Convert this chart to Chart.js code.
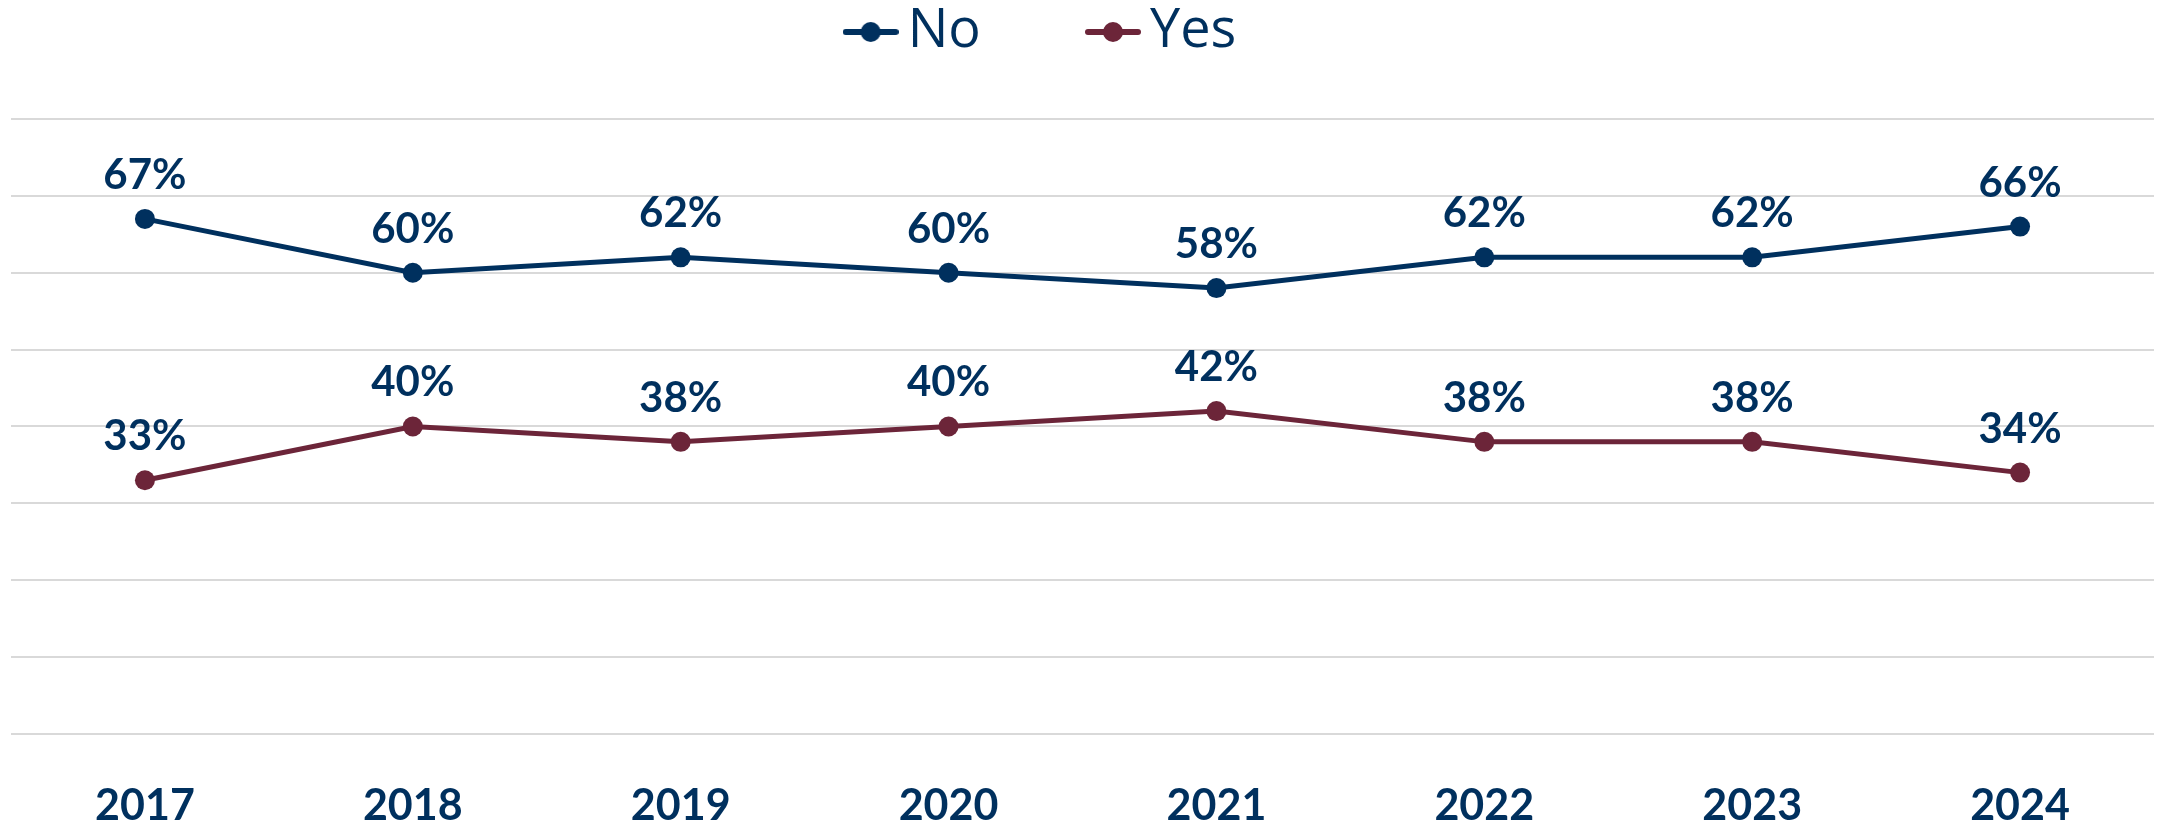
<!DOCTYPE html>
<html>
<head>
<meta charset="utf-8">
<script src="https://cdn.jsdelivr.net/npm/chart.js@4.4.1/dist/chart.umd.min.js"></script>
<style>
    html, body { margin: 0; padding: 0; background: #ffffff; }
    #wrap { width: 2164px; height: 829px; }
</style>
</head>
<body>
<div id="wrap"><canvas id="chart"></canvas></div>
<script>
    // chart data
    const years = ["2017", "2018", "2019", "2020", "2021", "2022", "2023", "2024"];
    const noValues = [67, 60, 62, 60, 58, 62, 62, 66];
    const yesValues = [33, 40, 38, 40, 42, 38, 38, 34];

    const NAVY = "#00305e";
    const MAROON = "#6c2539";
    const GRID = "#d9d9d9";

    // legend marker: short line with a dot in the middle
    const makeMarker = (color) => {
        const c = document.createElement("canvas");
        c.width = 56;
        c.height = 24;
        const g = c.getContext("2d");
        g.strokeStyle = color;
        g.lineWidth = 6;
        g.lineCap = "round";
        g.beginPath();
        g.moveTo(3, 12);
        g.lineTo(53, 12);
        g.stroke();
        g.fillStyle = color;
        g.beginPath();
        g.arc(28, 12, 10, 0, Math.PI * 2);
        g.fill();
        return c;
    };
    const markers = [makeMarker(NAVY), makeMarker(MAROON)];
    // trailing spaces keep the gap / offset of the original legend
    const legendPad = ["        ", "     "];

    // value labels above each point
    const pointLabels = {
        id: "pointLabels",
        afterDatasetsDraw(chart) {
            const ctx = chart.ctx;
            ctx.save();
            ctx.font = "bold 42px Lato";
            ctx.fillStyle = NAVY;
            ctx.textAlign = "center";
            ctx.textBaseline = "alphabetic";
            chart.data.datasets.forEach((ds, i) => {
                chart.getDatasetMeta(i).data.forEach((pt, j) => {
                    ctx.fillText(ds.data[j] + "%", pt.x, pt.y - 30);
                });
            });
            ctx.restore();
        },
    };

    new Chart(document.getElementById("chart"), {
        type: "line",
        data: {
            labels: years,
            datasets: [
                {
                    label: "No",
                    data: noValues,
                    borderColor: NAVY,
                    backgroundColor: NAVY,
                    borderWidth: 5,
                    pointRadius: 10,
                    pointBorderWidth: 0,
                    pointBackgroundColor: NAVY,
                    tension: 0,
                },
                {
                    label: "Yes",
                    data: yesValues,
                    borderColor: MAROON,
                    backgroundColor: MAROON,
                    borderWidth: 5,
                    pointRadius: 10,
                    pointBorderWidth: 0,
                    pointBackgroundColor: MAROON,
                    tension: 0,
                },
            ],
        },
        options: {
            responsive: true,
            maintainAspectRatio: false,
            animation: false,
            layout: { padding: { left: 11, right: 8, top: -5, bottom: 0 } },
            plugins: {
                tooltip: { enabled: false },
                legend: {
                    display: true,
                    position: "top",
                    labels: {
                        color: NAVY,
                        font: { family: "Open Sans", size: 54 },
                        usePointStyle: true,
                        pointStyleWidth: 20,
                        padding: 10,
                        generateLabels: (chart) =>
                            chart.data.datasets.map((ds, i) => ({
                                text: ds.label + legendPad[i],
                                fillStyle: ds.borderColor,
                                strokeStyle: ds.borderColor,
                                fontColor: NAVY,
                                pointStyle: markers[i],
                                lineWidth: 0,
                                hidden: false,
                                datasetIndex: i,
                            })),
                    },
                },
            },
            scales: {
                x: {
                    offset: true,
                    grid: { display: false, drawTicks: false },
                    border: { display: false },
                    ticks: {
                        color: NAVY,
                        font: { family: "Lato", size: 43, weight: "bold" },
                        padding: 46,
                    },
                    afterFit: (scale) => {
                        scale.height = 95;
                    },
                },
                y: {
                    min: 0,
                    max: 86.5,
                    grid: {
                        drawTicks: false,
                        lineWidth: 2,
                        color: (c) =>
                            c.tick && c.tick.value > 80 ? "rgba(0,0,0,0)" : GRID,
                    },
                    border: { display: false },
                    ticks: { display: false, stepSize: 10 },
                },
            },
        },
        plugins: [pointLabels],
    });
</script>
</body>
</html>
